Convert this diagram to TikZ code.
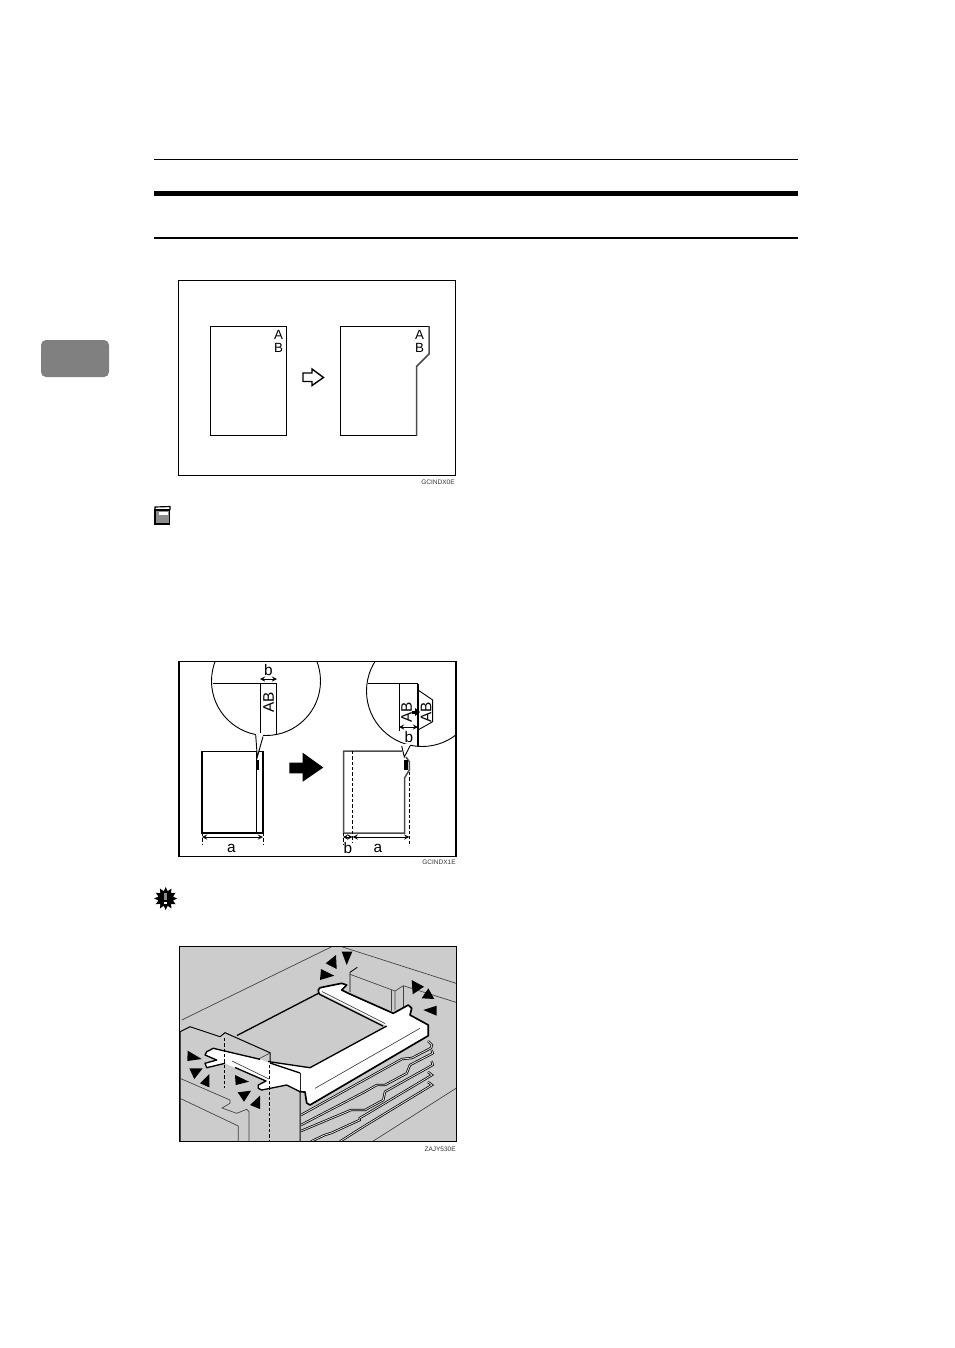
\documentclass[tikz,border=0pt]{standalone}
\usepackage{fontspec}
\setmainfont{Liberation Sans}
\usepackage{xcolor}
\usepackage{tikz}
\definecolor{panelgray}{gray}{0.8}
\tikzset{
    thinline/.style={line width=0.55pt},
    boxline/.style={line width=0.65pt},
    grayline/.style={line width=0.4pt, black!75},
    sheetedge/.style={line width=0.9pt, black!70},
    dashline/.style={line width=0.45pt, dash pattern=on 2pt off 1.2pt},
    dimline/.style={line width=0.4pt, <->, >=stealth},
    pointer/.style={fill=black, draw=none},
    trayband/.style={line width=0.45pt, double=white!35!panelgray, double distance=0.5pt},
    letter/.style={inner sep=0pt, font=\fontsize{9.2}{10}\selectfont},
    stacked/.style={inner sep=0pt, font=\fontsize{8}{9}\selectfont},
    code/.style={inner sep=0pt, anchor=east, font=\fontsize{3.9}{4}\selectfont, black!80}
}
\begin{document}
\begin{tikzpicture}[x=0.6pt, y=-0.6pt]
    \useasboundingbox (0,0) rectangle (954,1348);
    \fill[white] (0,0) rectangle (954,1348);
    % Header rules and tab
    \draw[line width=0.6pt] (154,159.5) -- (798,159.5);
    \draw[line width=2.9pt] (154,193.5) -- (798,193.5);
    \draw[line width=1.1pt] (154,238) -- (798,238);
    \fill[black!50, rounded corners=3pt] (41,340) rectangle (109,377);
    % First figure
    \draw[boxline] (178.5,280.5) rectangle (455.5,475.5);
    \draw[thinline] (210.5,326) rectangle (286.5,435.5);
    \node[stacked] (firstA) at (278.5,334.5) {A};
    \node[stacked] (firstB) at (278.5,347.5) {B};
    \draw[thinline] (429,326) -- (340.5,326) -- (340.5,435.5) -- (416.5,435.5);
    \draw[sheetedge] (429,326) -- (429,354) -- (416.5,366.5) -- (416.5,435.5);
    \node[stacked] (cutA) at (419.5,334.5) {A};
    \node[stacked] (cutB) at (419.5,347.5) {B};
    \draw[line width=0.85pt, fill=white] (303,373) -- (312,373) -- (312,369) -- (323.5,377.5) -- (312,385.5) -- (312,381.5) -- (303,381.5) -- cycle;
    \node[code] (codeone) at (455,482) {GCINDX0E};
    % Note icon
    \draw[line width=0.7pt, fill=black!45] (155,510) rectangle (169.5,524);
    \fill[white] (158.5,511.5) rectangle (168,515);
    \draw[line width=0.7pt] (155,510) -- (155,507) -- (170,506.5) -- (170,510);
    % Second figure
    \begin{scope}
        \clip (179,661.5) rectangle (456,856.5);
        \draw[thinline, fill=white] (266,681) circle (54.5);
        \draw[thinline, fill=white] (422,691) circle (55.5);
    \end{scope}
    \draw[boxline] (179,661.5) rectangle (456,856.5);
    \draw[thinline] (213,683) -- (276,683) -- (276,735);
    \draw[thinline] (260.5,683) -- (260.5,735);
    \node[letter, rotate=90] (leftAB) at (268.5,702) {AB};
    \node[letter] (leftb) at (268.5,670) {b};
    \coordinate (lefttipa) at (260,679);
    \coordinate (lefttipb) at (277,679);
    \draw[dimline] (lefttipa) -- (lefttipb);
    \draw[line width=0.7pt] (368,683.5) -- (418,683.5);
    \draw[thinline] (418,690) -- (432.7,700) -- (432.7,721.7) -- (418,730);
    \draw[thinline] (399.5,683.5) -- (399.5,731);
    \draw[line width=0.7pt] (418,683.5) -- (418,745.5);
    \node[letter, rotate=90] (beforeAB) at (406.5,712) {AB};
    \node[letter, rotate=90] (afterAB) at (426,712) {AB};
    \fill[pointer] (411.5,710.5) rectangle (416,713.5);
    \fill[pointer] (415,708) -- (420,712) -- (415,716) -- cycle;
    \coordinate (midtipa) at (399,727);
    \coordinate (midtipb) at (418,727);
    \draw[dimline] (midtipa) -- (midtipb);
    \node[letter] (midb) at (409,737.5) {b};
    % Left sheet
    \draw[line width=1.1pt] (202,751) -- (202,833) -- (263,833) -- (263,751);
    \draw[line width=0.6pt] (202,751) -- (263,751);
    \draw[line width=0.4pt] (256,751) -- (256,833);
    \fill[black] (255.5,760) rectangle (258.5,770);
    % Right sheet
    \draw[sheetedge] (402,751) -- (343.5,751) -- (343.5,833) -- (404.5,833) -- (404.5,778) -- (409.3,770) -- (409.3,761.7) -- (406,757);
    \draw[dashline] (352.7,751) -- (352.7,843);
    \fill[black] (403.5,760) rectangle (407.5,770);
    % Callout tails
    \fill[white] (256,733) -- (257.3,757) -- (263.5,733) -- cycle;
    \draw[thinline] (255.7,735) -- (257.3,757) -- (263,736.5);
    \fill[white] (401,744) -- (404.3,757) -- (410.5,744) -- cycle;
    \draw[thinline] (401.7,746) -- (404.3,757) -- (410,746);
    % Big arrow
    \fill[black] (289.3,762.7) -- (302.7,762.7) -- (302.7,752.7) -- (323.3,767.5) -- (302.7,781.7) -- (302.7,773.3) -- (289.3,773.3) -- cycle;
    % Dimension lines
    \draw[dashline] (202,833) -- (202,844) (263,833) -- (263,844);
    \draw[dashline] (343,833) -- (343,844) (409.3,772) -- (409.3,844);
    \coordinate (aonel) at (202,837);
    \coordinate (aoner) at (263,837);
    \draw[dimline] (aonel) -- (aoner);
    \node[letter] (aone) at (231.5,848) {a};
    \coordinate (bl) at (343,837);
    \coordinate (br) at (352.7,837);
    \draw[dimline] (bl) -- (br);
    \node[letter] (btwo) at (348,848) {b};
    \coordinate (atwol) at (352.7,837);
    \coordinate (atwor) at (409.3,837);
    \draw[dimline] (atwol) -- (atwor);
    \node[letter] (atwo) at (378,848) {a};
    \node[code] (codetwo) at (456,862.5) {GCINDX1E};
    % Important icon
    \fill[black] (165.7,898.5) circle (8);
    \foreach \ang in {0,30,...,330}
        \fill[black] ([shift={(165.7,898.5)}]\ang-15:7.5) -- ([shift={(165.7,898.5)}]\ang:11.5) -- ([shift={(165.7,898.5)}]\ang+15:7.5) -- cycle;
    \fill[black!45] (164.2,892.5) rectangle (167.2,900);
    \fill[white] (164.2,901.5) rectangle (167.2,904);
    % Third figure
    \fill[panelgray] (179.5,946.5) rectangle (456.5,1141.5);
    \begin{scope}
        \clip (179.5,946.5) rectangle (456.5,1141.5);
        % Background lines
        \draw[grayline] (181.7,1020) -- (331.7,946.7);
        \draw[grayline] (341.7,946.7) -- (456,983.3);
        \draw[line width=0.5pt] (357.3,967.3) -- (350,972.3) -- (350,992);
        \draw[grayline] (350,974.3) -- (395,991) -- (395,1010);
        \draw[grayline] (391,990) -- (391,1011);
        \draw[grayline] (395,991) -- (403.3,985.7) -- (456,1002.3);
        \draw[grayline] (403.3,985.7) -- (403.3,1006.7);
        \draw[grayline] (456,1088.3) -- (373.3,1141);
        % Paper
        \draw[line width=0.8pt] (319,993) -- (237,1035.5);
        % Trays
        \draw[trayband] (428,1041) -- (432,1045) -- (431,1048) -- (412,1058) -- (402,1059) -- (301,1115);
        \draw[trayband] (431.7,1050) -- (432.7,1053.3) -- (410,1065) -- (406.7,1073.3) -- (385,1085) -- (376.7,1085) -- (365,1091.7) -- (301,1125);
        \draw[trayband] (431.7,1061) -- (432.7,1065) -- (385,1091.7) -- (383.3,1100) -- (365,1110) -- (351,1110) -- (301,1131);
        \draw[trayband] (428,1072) -- (432,1075) -- (365,1115) -- (359.7,1118) -- (359.7,1120) -- (331.3,1133) -- (324.7,1135) -- (311,1141.5);
        \draw[trayband] (428,1082) -- (432,1085) -- (365,1125.7) -- (340,1141.5);
        % Left upright block
        \draw[line width=0.6pt, fill=panelgray] (180,1031.7) -- (190,1026.7) -- (220,1036.7) -- (225,1032.7) -- (270,1052.7) -- (270,1063) -- (300,1073) -- (300,1141.5) -- (180,1141.5) -- cycle;
        \draw[grayline] (270,1053) -- (256.7,1060);
        \draw[grayline] (180,1078.3) -- (230,1100) -- (230,1103.3) -- (222,1108) -- (236.7,1113.3) -- (246.7,1109.3) -- (249,1111.7) -- (249,1141.5);
        \draw[grayline] (180,1098.3) -- (238.3,1126) -- (238.3,1141.5);
    \end{scope}
    % Guide fence, top and right
    \fill[white] (318.3,991.7) -- (318.3,990) -- (320,987.7) -- (341.7,983.3) -- (346.7,985) -- (341.7,990) -- (348.3,993.3) -- (393.3,1013.3) -- (408.3,1005) -- (411.7,1008.3) -- (410,1015) -- (428.3,1025) -- (428.3,1035.7) -- (310,1105) -- (306.7,1103) -- (305,1092) -- (300,1091.7) -- (300,1073) -- (268,1062) -- (310,1067.7) -- (386.7,1026) -- cycle;
    \draw[line width=1pt, line join=round] (319,994) -- (318.3,990) -- (320,987.7) -- (341.7,983.3) -- (346.7,985) -- (341.7,990) -- (348.3,993.3) -- (393.3,1013.3) -- (408.3,1005) -- (411.7,1008.3) -- (410,1015) -- (428.3,1025) -- (428.3,1035.7) -- (310,1105) -- (306.7,1103) -- (305,1092) -- (300,1091.7) -- (300,1073);
    \draw[line width=0.8pt] (319,994) -- (383,1026) (386.7,1026) -- (310,1067.7) -- (268,1061.5);
    \draw[grayline] (322,991.5) -- (385,1023.5);
    \draw[grayline] (315,1088.3) -- (420,1028.3);
    % Guide fence, left
    \fill[white] (206.7,1051.7) -- (213.3,1048.3) -- (260,1059.3) -- (270,1063) -- (300,1073) -- (300,1091.7) -- (286.7,1085) -- (261.7,1090) -- (258.3,1088.3) -- (258.3,1085) -- (266,1081) -- (225,1063.3) -- (206.7,1067.7) -- (205,1063.3) -- (216.7,1060) -- (205,1055) -- cycle;
    \draw[line width=0.8pt, line join=round] (260,1059.3) -- (213.3,1048.3) -- (206.7,1051.7) -- (205,1055) -- (216.7,1060) -- (205,1063.3) -- (206.7,1067.7) -- (225,1063.3);
    \draw[line width=0.8pt] (270,1063) -- (300,1073);
    \draw[line width=0.8pt, line join=round] (235,1067.5) -- (266,1081) -- (258.3,1085) -- (258.3,1088.3) -- (261.7,1090) -- (286.7,1085) -- (300,1091.7);
    \draw[grayline] (232,1061) -- (269,1079);
    \draw[dashline] (224.3,1038) -- (224.3,1088);
    \draw[dashline] (269.3,1065) -- (269.3,1141);
    % Triangles
    \fill[pointer] (341.7,951.7) -- (352.3,951.7) -- (346.7,965) -- cycle;
    \fill[pointer] (336,955) -- (325.7,963.3) -- (336.7,969) -- cycle;
    \fill[pointer] (321,969) -- (334.3,975.7) -- (320,980) -- cycle;
    \fill[pointer] (411.7,980) -- (424,986.7) -- (412.7,994.3) -- cycle;
    \fill[pointer] (428.3,988.3) -- (434.3,999) -- (421.7,998.3) -- cycle;
    \fill[pointer] (436.7,1005.7) -- (436.7,1015.7) -- (423.3,1010) -- cycle;
    \fill[pointer] (187.7,1050.7) -- (201.7,1059) -- (187.3,1061) -- cycle;
    \fill[pointer] (189.3,1068.3) -- (202.7,1068.3) -- (194.3,1079) -- cycle;
    \fill[pointer] (209.3,1074) -- (209.3,1087.3) -- (200,1083.3) -- cycle;
    \fill[pointer] (235,1075) -- (249,1081.7) -- (235.7,1085) -- cycle;
    \fill[pointer] (237.7,1092.3) -- (251,1090.7) -- (244,1101.7) -- cycle;
    \fill[pointer] (260,1095.7) -- (260,1109) -- (250,1105) -- cycle;
    \draw[boxline] (179.5,946.5) rectangle (456.5,1141.5);
    \node[code] (codethree) at (456,1149) {ZAJY530E};
\end{tikzpicture}
\end{document}
